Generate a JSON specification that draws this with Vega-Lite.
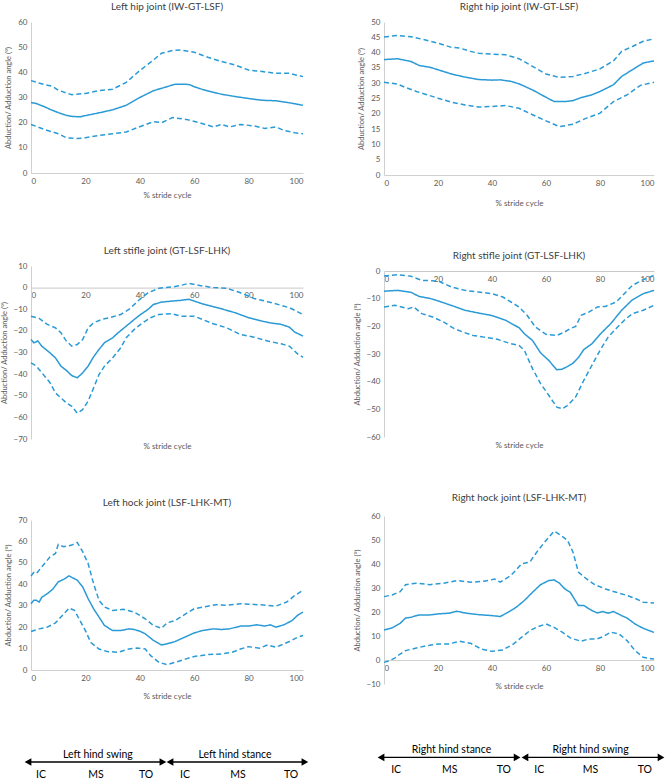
{
  "$schema": "https://vega.github.io/schema/vega-lite/v6.json",
  "padding": {"left": 0, "top": 2, "right": 4, "bottom": 0},
  "background": "white",
  "config": {
    "font": "Lato",
    "view": {"stroke": null},
    "axis": {"grid": false, "ticks": false, "domainColor": "#d0d0d0", "labelFontSize": 8, "labelColor": "#595959", "titleFontSize": 7.5, "titleColor": "#595959", "titleFontWeight": "normal", "labelFont": "Lato", "titleFont": "Lato", "labelPadding": 4, "labelOverlap": false, "labelBound": false},
    "axisY": {"titlePadding": 5, "labelFlush": false},
    "axisX": {"titlePadding": 6, "titleFontSize": 8},
    "title": {"fontSize": 10, "fontWeight": "normal", "color": "#404040", "font": "Lato", "offset": 6},
    "line": {"color": "#2a9ad6", "strokeWidth": 1.5}
  },
  "datasets": {
    "lhip": [
      {"s":"m","x":0,"y":28},{"s":"m","x":2,"y":27.6},{"s":"m","x":5,"y":26.3},{"s":"m","x":7,"y":25.3},{"s":"m","x":10,"y":24},{"s":"m","x":13,"y":22.9},{"s":"m","x":15,"y":22.5},{"s":"m","x":18,"y":22.3},{"s":"m","x":20,"y":22.8},{"s":"m","x":25,"y":23.9},{"s":"m","x":30,"y":25.1},{"s":"m","x":35,"y":26.9},{"s":"m","x":40,"y":30},{"s":"m","x":45,"y":32.7},{"s":"m","x":50,"y":34.3},{"s":"m","x":53,"y":35.3},{"s":"m","x":58,"y":35.2},{"s":"m","x":60,"y":34.3},{"s":"m","x":63,"y":33.2},{"s":"m","x":67,"y":32.1},{"s":"m","x":70,"y":31.3},{"s":"m","x":75,"y":30.4},{"s":"m","x":80,"y":29.6},{"s":"m","x":85,"y":28.9},{"s":"m","x":90,"y":28.7},{"s":"m","x":95,"y":27.9},{"s":"m","x":100,"y":26.9},
      {"s":"u","x":0,"y":36.7},{"s":"u","x":5,"y":35.1},{"s":"u","x":8,"y":34.4},{"s":"u","x":10,"y":32.9},{"s":"u","x":15,"y":31.1},{"s":"u","x":20,"y":31.6},{"s":"u","x":25,"y":32.7},{"s":"u","x":30,"y":33.3},{"s":"u","x":35,"y":36},{"s":"u","x":40,"y":40.7},{"s":"u","x":45,"y":44.9},{"s":"u","x":48,"y":47.6},{"s":"u","x":52,"y":48.7},{"s":"u","x":55,"y":48.9},{"s":"u","x":60,"y":48},{"s":"u","x":65,"y":46},{"s":"u","x":70,"y":44.3},{"s":"u","x":75,"y":42.9},{"s":"u","x":80,"y":40.9},{"s":"u","x":85,"y":40.3},{"s":"u","x":90,"y":39.6},{"s":"u","x":95,"y":39.6},{"s":"u","x":100,"y":38.3},
      {"s":"l","x":0,"y":19.3},{"s":"l","x":5,"y":17.3},{"s":"l","x":10,"y":15.6},{"s":"l","x":13,"y":14},{"s":"l","x":17,"y":13.7},{"s":"l","x":20,"y":14},{"s":"l","x":25,"y":14.9},{"s":"l","x":30,"y":15.6},{"s":"l","x":35,"y":16.3},{"s":"l","x":40,"y":18.4},{"s":"l","x":45,"y":20.4},{"s":"l","x":48,"y":20},{"s":"l","x":52,"y":22},{"s":"l","x":57,"y":21.3},{"s":"l","x":62,"y":20},{"s":"l","x":67,"y":18.3},{"s":"l","x":70,"y":19.3},{"s":"l","x":73,"y":18.3},{"s":"l","x":77,"y":19.3},{"s":"l","x":82,"y":18.7},{"s":"l","x":86,"y":17.7},{"s":"l","x":90,"y":18.3},{"s":"l","x":93,"y":16.9},{"s":"l","x":97,"y":16},{"s":"l","x":100,"y":15.6}
    ],
    "rhip": [
      {"s":"m","x":0,"y":37.7},{"s":"m","x":5,"y":38},{"s":"m","x":10,"y":37.1},{"s":"m","x":13,"y":35.8},{"s":"m","x":17,"y":35.2},{"s":"m","x":20,"y":34.4},{"s":"m","x":25,"y":33},{"s":"m","x":30,"y":32},{"s":"m","x":35,"y":31.2},{"s":"m","x":40,"y":31},{"s":"m","x":43,"y":31.1},{"s":"m","x":47,"y":30.6},{"s":"m","x":50,"y":29.8},{"s":"m","x":55,"y":27.8},{"s":"m","x":60,"y":25.4},{"s":"m","x":63,"y":24},{"s":"m","x":67,"y":24},{"s":"m","x":70,"y":24.3},{"s":"m","x":73,"y":25.3},{"s":"m","x":77,"y":26.2},{"s":"m","x":80,"y":27.3},{"s":"m","x":85,"y":29.5},{"s":"m","x":88,"y":32.2},{"s":"m","x":92,"y":34.4},{"s":"m","x":96,"y":36.6},{"s":"m","x":100,"y":37.3},
      {"s":"u","x":0,"y":45.1},{"s":"u","x":5,"y":45.6},{"s":"u","x":10,"y":45.2},{"s":"u","x":15,"y":44.2},{"s":"u","x":20,"y":43.1},{"s":"u","x":25,"y":41.7},{"s":"u","x":28,"y":41.5},{"s":"u","x":32,"y":40.4},{"s":"u","x":35,"y":39.8},{"s":"u","x":40,"y":39.5},{"s":"u","x":45,"y":39.3},{"s":"u","x":50,"y":38},{"s":"u","x":55,"y":35.5},{"s":"u","x":60,"y":33},{"s":"u","x":65,"y":31.9},{"s":"u","x":70,"y":32.2},{"s":"u","x":75,"y":33.3},{"s":"u","x":80,"y":34.7},{"s":"u","x":85,"y":37.3},{"s":"u","x":88,"y":40.4},{"s":"u","x":92,"y":42},{"s":"u","x":96,"y":43.7},{"s":"u","x":100,"y":44.5},
      {"s":"l","x":0,"y":30.3},{"s":"l","x":5,"y":29.7},{"s":"l","x":8,"y":28.6},{"s":"l","x":12,"y":27.3},{"s":"l","x":15,"y":26.5},{"s":"l","x":20,"y":25.1},{"s":"l","x":25,"y":23.8},{"s":"l","x":30,"y":22.9},{"s":"l","x":35,"y":22.2},{"s":"l","x":40,"y":22.4},{"s":"l","x":45,"y":22.7},{"s":"l","x":50,"y":21.8},{"s":"l","x":55,"y":19.7},{"s":"l","x":60,"y":17.7},{"s":"l","x":65,"y":15.8},{"s":"l","x":70,"y":16.6},{"s":"l","x":75,"y":18.6},{"s":"l","x":80,"y":20.2},{"s":"l","x":85,"y":24},{"s":"l","x":90,"y":26.2},{"s":"l","x":95,"y":29.3},{"s":"l","x":100,"y":30.3}
    ],
    "lstif": [
      {"s":"m","x":0,"y":-24},{"s":"m","x":1,"y":-25.5},{"s":"m","x":2.5,"y":-24.7},{"s":"m","x":4,"y":-27.1},{"s":"m","x":7,"y":-30.2},{"s":"m","x":9,"y":-32.5},{"s":"m","x":11,"y":-36.3},{"s":"m","x":13,"y":-38.3},{"s":"m","x":15,"y":-40.7},{"s":"m","x":17,"y":-41.7},{"s":"m","x":19,"y":-39.4},{"s":"m","x":21,"y":-36.3},{"s":"m","x":23,"y":-32},{"s":"m","x":25,"y":-28.6},{"s":"m","x":27,"y":-25.5},{"s":"m","x":30,"y":-23.2},{"s":"m","x":32,"y":-20.9},{"s":"m","x":35,"y":-17.8},{"s":"m","x":38,"y":-14.7},{"s":"m","x":40,"y":-12.7},{"s":"m","x":43,"y":-10.1},{"s":"m","x":45,"y":-7.8},{"s":"m","x":48,"y":-6.7},{"s":"m","x":52,"y":-6.2},{"s":"m","x":55,"y":-5.9},{"s":"m","x":58,"y":-5.4},{"s":"m","x":60,"y":-6.2},{"s":"m","x":63,"y":-7.5},{"s":"m","x":67,"y":-8.8},{"s":"m","x":70,"y":-9.8},{"s":"m","x":75,"y":-11.6},{"s":"m","x":80,"y":-13.9},{"s":"m","x":85,"y":-15.5},{"s":"m","x":88,"y":-16.3},{"s":"m","x":92,"y":-17},{"s":"m","x":95,"y":-18.3},{"s":"m","x":97,"y":-20.6},{"s":"m","x":100,"y":-22.4},
      {"s":"u","x":0,"y":-13.2},{"s":"u","x":3,"y":-14.2},{"s":"u","x":6,"y":-17},{"s":"u","x":9,"y":-18.6},{"s":"u","x":11,"y":-20.9},{"s":"u","x":13,"y":-24.7},{"s":"u","x":15,"y":-27.1},{"s":"u","x":17,"y":-26.3},{"s":"u","x":19,"y":-24},{"s":"u","x":21,"y":-18.6},{"s":"u","x":23,"y":-16.3},{"s":"u","x":26,"y":-14.7},{"s":"u","x":29,"y":-13.9},{"s":"u","x":33,"y":-12.4},{"s":"u","x":36,"y":-10.1},{"s":"u","x":40,"y":-5.4},{"s":"u","x":43,"y":-2.4},{"s":"u","x":47,"y":-0.3},{"s":"u","x":52,"y":0.3},{"s":"u","x":55,"y":1},{"s":"u","x":58,"y":2},{"s":"u","x":62,"y":1},{"s":"u","x":67,"y":0},{"s":"u","x":72,"y":-0.3},{"s":"u","x":77,"y":-2.4},{"s":"u","x":82,"y":-5},{"s":"u","x":87,"y":-6.5},{"s":"u","x":92,"y":-8.2},{"s":"u","x":95,"y":-9.3},{"s":"u","x":97,"y":-10.5},{"s":"u","x":100,"y":-12.4},
      {"s":"l","x":0,"y":-34.8},{"s":"l","x":2,"y":-36.3},{"s":"l","x":4,"y":-39.4},{"s":"l","x":7,"y":-44},{"s":"l","x":9,"y":-48.7},{"s":"l","x":11,"y":-51},{"s":"l","x":13,"y":-53.3},{"s":"l","x":15,"y":-54.9},{"s":"l","x":17,"y":-58},{"s":"l","x":19,"y":-56.4},{"s":"l","x":21,"y":-52.5},{"s":"l","x":23,"y":-46.4},{"s":"l","x":25,"y":-40.2},{"s":"l","x":27,"y":-36.3},{"s":"l","x":30,"y":-32.5},{"s":"l","x":33,"y":-27.8},{"s":"l","x":35,"y":-23.2},{"s":"l","x":38,"y":-19.3},{"s":"l","x":41,"y":-16.3},{"s":"l","x":44,"y":-13.9},{"s":"l","x":47,"y":-12.4},{"s":"l","x":52,"y":-12.1},{"s":"l","x":55,"y":-13.2},{"s":"l","x":60,"y":-13.2},{"s":"l","x":63,"y":-14.7},{"s":"l","x":67,"y":-16.7},{"s":"l","x":72,"y":-18.6},{"s":"l","x":77,"y":-21.7},{"s":"l","x":82,"y":-22.9},{"s":"l","x":87,"y":-24.7},{"s":"l","x":92,"y":-26},{"s":"l","x":95,"y":-27.1},{"s":"l","x":98,"y":-30.6},{"s":"l","x":100,"y":-32.2}
    ],
    "rstif": [
      {"s":"m","x":0,"y":-7.3},{"s":"m","x":5,"y":-7},{"s":"m","x":10,"y":-7.7},{"s":"m","x":13,"y":-9.2},{"s":"m","x":17,"y":-9.9},{"s":"m","x":20,"y":-10.8},{"s":"m","x":23,"y":-11.8},{"s":"m","x":26,"y":-12.8},{"s":"m","x":30,"y":-14.2},{"s":"m","x":35,"y":-15.2},{"s":"m","x":40,"y":-16.1},{"s":"m","x":45,"y":-17.8},{"s":"m","x":50,"y":-20.5},{"s":"m","x":52,"y":-22.7},{"s":"m","x":55,"y":-25.1},{"s":"m","x":58,"y":-29.6},{"s":"m","x":61,"y":-32.3},{"s":"m","x":64,"y":-35.7},{"s":"m","x":66,"y":-35.5},{"s":"m","x":68,"y":-34.5},{"s":"m","x":70,"y":-33.3},{"s":"m","x":72,"y":-31.3},{"s":"m","x":74,"y":-28.4},{"s":"m","x":77,"y":-26.3},{"s":"m","x":80,"y":-22.9},{"s":"m","x":84,"y":-19},{"s":"m","x":88,"y":-14.2},{"s":"m","x":92,"y":-10.4},{"s":"m","x":96,"y":-8.2},{"s":"m","x":100,"y":-7},
      {"s":"u","x":0,"y":-1.8},{"s":"u","x":5,"y":-1.3},{"s":"u","x":10,"y":-1.9},{"s":"u","x":14,"y":-3.4},{"s":"u","x":20,"y":-3.6},{"s":"u","x":25,"y":-5.8},{"s":"u","x":30,"y":-7},{"s":"u","x":35,"y":-7.6},{"s":"u","x":40,"y":-8.2},{"s":"u","x":44,"y":-9.4},{"s":"u","x":47,"y":-11.2},{"s":"u","x":50,"y":-13},{"s":"u","x":53,"y":-16},{"s":"u","x":56,"y":-20.2},{"s":"u","x":60,"y":-22.9},{"s":"u","x":64,"y":-23.3},{"s":"u","x":67,"y":-22},{"s":"u","x":69,"y":-20.8},{"s":"u","x":71,"y":-20},{"s":"u","x":73,"y":-16},{"s":"u","x":76,"y":-14.8},{"s":"u","x":79,"y":-13},{"s":"u","x":82,"y":-12.8},{"s":"u","x":86,"y":-11.2},{"s":"u","x":89,"y":-8.2},{"s":"u","x":92,"y":-5.2},{"s":"u","x":96,"y":-3.1},{"s":"u","x":100,"y":-1.6},
      {"s":"l","x":0,"y":-13},{"s":"l","x":4,"y":-12.4},{"s":"l","x":9,"y":-13.6},{"s":"l","x":11,"y":-13},{"s":"l","x":14,"y":-15.4},{"s":"l","x":18,"y":-16.6},{"s":"l","x":22,"y":-18.4},{"s":"l","x":26,"y":-20.8},{"s":"l","x":29,"y":-22},{"s":"l","x":33,"y":-23.3},{"s":"l","x":37,"y":-23.9},{"s":"l","x":42,"y":-24.7},{"s":"l","x":47,"y":-26.3},{"s":"l","x":50,"y":-26.9},{"s":"l","x":52,"y":-28.7},{"s":"l","x":55,"y":-35.3},{"s":"l","x":58,"y":-40.7},{"s":"l","x":61,"y":-44.9},{"s":"l","x":64,"y":-49.2},{"s":"l","x":66,"y":-49.8},{"s":"l","x":68,"y":-48.6},{"s":"l","x":71,"y":-45.5},{"s":"l","x":74,"y":-39.5},{"s":"l","x":77,"y":-34.1},{"s":"l","x":80,"y":-28.7},{"s":"l","x":83,"y":-23.9},{"s":"l","x":86,"y":-20.8},{"s":"l","x":89,"y":-17.8},{"s":"l","x":92,"y":-15.4},{"s":"l","x":96,"y":-14.2},{"s":"l","x":100,"y":-12.4}
    ],
    "lhock": [
      {"s":"m","x":0,"y":30.9},{"s":"m","x":1,"y":32.5},{"s":"m","x":2,"y":32.5},{"s":"m","x":3,"y":31.7},{"s":"m","x":4,"y":34},{"s":"m","x":6,"y":35.6},{"s":"m","x":8,"y":37.7},{"s":"m","x":10,"y":41.1},{"s":"m","x":12,"y":42.3},{"s":"m","x":14,"y":43.9},{"s":"m","x":17,"y":41.9},{"s":"m","x":19,"y":38.8},{"s":"m","x":21,"y":33.3},{"s":"m","x":23,"y":28.6},{"s":"m","x":25,"y":24.7},{"s":"m","x":27,"y":20.8},{"s":"m","x":30,"y":18.4},{"s":"m","x":33,"y":18.4},{"s":"m","x":36,"y":19.2},{"s":"m","x":38,"y":18.9},{"s":"m","x":40,"y":18.1},{"s":"m","x":42,"y":16.9},{"s":"m","x":45,"y":13.8},{"s":"m","x":48,"y":11.7},{"s":"m","x":50,"y":12.2},{"s":"m","x":53,"y":13.3},{"s":"m","x":57,"y":15.6},{"s":"m","x":60,"y":17.3},{"s":"m","x":63,"y":18.4},{"s":"m","x":67,"y":19.2},{"s":"m","x":70,"y":18.9},{"s":"m","x":73,"y":19.2},{"s":"m","x":77,"y":20.5},{"s":"m","x":80,"y":20.5},{"s":"m","x":83,"y":21.1},{"s":"m","x":86,"y":20.5},{"s":"m","x":88,"y":21.1},{"s":"m","x":90,"y":20},{"s":"m","x":93,"y":21.1},{"s":"m","x":96,"y":23.1},{"s":"m","x":98,"y":25.5},{"s":"m","x":100,"y":27},
      {"s":"u","x":0,"y":43.9},{"s":"u","x":1,"y":45.5},{"s":"u","x":2,"y":45},{"s":"u","x":3,"y":46.6},{"s":"u","x":5,"y":49.7},{"s":"u","x":7,"y":52.8},{"s":"u","x":9,"y":54.4},{"s":"u","x":10,"y":58.6},{"s":"u","x":12,"y":57.5},{"s":"u","x":15,"y":58.3},{"s":"u","x":17,"y":59.5},{"s":"u","x":19,"y":55.2},{"s":"u","x":21,"y":49.7},{"s":"u","x":23,"y":40.3},{"s":"u","x":25,"y":32.5},{"s":"u","x":27,"y":29.4},{"s":"u","x":30,"y":27.8},{"s":"u","x":34,"y":28.3},{"s":"u","x":38,"y":27},{"s":"u","x":42,"y":23.9},{"s":"u","x":45,"y":20.8},{"s":"u","x":48,"y":19.5},{"s":"u","x":50,"y":22},{"s":"u","x":53,"y":23.1},{"s":"u","x":57,"y":26.3},{"s":"u","x":60,"y":28.6},{"s":"u","x":65,"y":29.8},{"s":"u","x":68,"y":30.5},{"s":"u","x":72,"y":30.2},{"s":"u","x":77,"y":30.9},{"s":"u","x":82,"y":30.6},{"s":"u","x":87,"y":30.2},{"s":"u","x":90,"y":29.8},{"s":"u","x":94,"y":31.7},{"s":"u","x":97,"y":34.8},{"s":"u","x":100,"y":37.2},
      {"s":"l","x":0,"y":18},{"s":"l","x":3,"y":19.2},{"s":"l","x":6,"y":20},{"s":"l","x":9,"y":22},{"s":"l","x":11,"y":24.7},{"s":"l","x":14,"y":28.9},{"s":"l","x":16,"y":27.8},{"s":"l","x":18,"y":23.1},{"s":"l","x":20,"y":18.4},{"s":"l","x":22,"y":12.8},{"s":"l","x":25,"y":9.8},{"s":"l","x":28,"y":8.6},{"s":"l","x":32,"y":8.3},{"s":"l","x":36,"y":9.8},{"s":"l","x":39,"y":10.3},{"s":"l","x":42,"y":9.8},{"s":"l","x":44,"y":6.7},{"s":"l","x":47,"y":3.6},{"s":"l","x":50,"y":2.5},{"s":"l","x":53,"y":3.6},{"s":"l","x":57,"y":5.2},{"s":"l","x":60,"y":6.3},{"s":"l","x":65,"y":7.2},{"s":"l","x":70,"y":7.5},{"s":"l","x":74,"y":8.3},{"s":"l","x":77,"y":9.8},{"s":"l","x":80,"y":10.9},{"s":"l","x":84,"y":10.2},{"s":"l","x":87,"y":11.7},{"s":"l","x":90,"y":10.6},{"s":"l","x":95,"y":13.3},{"s":"l","x":98,"y":15.3},{"s":"l","x":100,"y":16.1}
    ],
    "rhock": [
      {"s":"m","x":0,"y":12.5},{"s":"m","x":3,"y":13.4},{"s":"m","x":6,"y":15.3},{"s":"m","x":8,"y":17.5},{"s":"m","x":10,"y":17.8},{"s":"m","x":13,"y":18.8},{"s":"m","x":17,"y":18.8},{"s":"m","x":20,"y":19.2},{"s":"m","x":24,"y":19.5},{"s":"m","x":27,"y":20.3},{"s":"m","x":30,"y":19.6},{"s":"m","x":35,"y":18.9},{"s":"m","x":40,"y":18.5},{"s":"m","x":43,"y":18.1},{"s":"m","x":46,"y":19.9},{"s":"m","x":49,"y":22},{"s":"m","x":52,"y":24.8},{"s":"m","x":55,"y":28.2},{"s":"m","x":58,"y":31.4},{"s":"m","x":61,"y":33.1},{"s":"m","x":63,"y":33.4},{"s":"m","x":65,"y":32},{"s":"m","x":67,"y":29.6},{"s":"m","x":69,"y":28.2},{"s":"m","x":72,"y":22.7},{"s":"m","x":74,"y":22.7},{"s":"m","x":77,"y":20.6},{"s":"m","x":79,"y":19.6},{"s":"m","x":81,"y":20.2},{"s":"m","x":83,"y":19.5},{"s":"m","x":85,"y":20.2},{"s":"m","x":88,"y":18.5},{"s":"m","x":90,"y":17.5},{"s":"m","x":93,"y":15},{"s":"m","x":96,"y":13.2},{"s":"m","x":100,"y":11.5},
      {"s":"u","x":0,"y":26.4},{"s":"u","x":3,"y":27.1},{"s":"u","x":6,"y":28.5},{"s":"u","x":8,"y":31.4},{"s":"u","x":12,"y":32},{"s":"u","x":17,"y":31.4},{"s":"u","x":22,"y":32},{"s":"u","x":27,"y":33.1},{"s":"u","x":32,"y":32.4},{"s":"u","x":37,"y":32.8},{"s":"u","x":41,"y":33.7},{"s":"u","x":43,"y":32.4},{"s":"u","x":47,"y":35.2},{"s":"u","x":51,"y":40.1},{"s":"u","x":54,"y":40.8},{"s":"u","x":57,"y":45.6},{"s":"u","x":60,"y":49.8},{"s":"u","x":63,"y":53.7},{"s":"u","x":66,"y":51.5},{"s":"u","x":68,"y":49.8},{"s":"u","x":70,"y":44.9},{"s":"u","x":72,"y":36.6},{"s":"u","x":75,"y":33.8},{"s":"u","x":78,"y":31.4},{"s":"u","x":82,"y":29.6},{"s":"u","x":86,"y":28.2},{"s":"u","x":90,"y":26.9},{"s":"u","x":93,"y":25.7},{"s":"u","x":96,"y":24.1},{"s":"u","x":100,"y":23.7},
      {"s":"l","x":0,"y":-1},{"s":"l","x":2,"y":-0.3},{"s":"l","x":4,"y":0.8},{"s":"l","x":6,"y":2.5},{"s":"l","x":8,"y":3.9},{"s":"l","x":12,"y":5},{"s":"l","x":16,"y":6},{"s":"l","x":20,"y":6.7},{"s":"l","x":24,"y":6.7},{"s":"l","x":28,"y":7.8},{"s":"l","x":32,"y":7},{"s":"l","x":36,"y":4.6},{"s":"l","x":40,"y":3.6},{"s":"l","x":44,"y":4.2},{"s":"l","x":48,"y":6.7},{"s":"l","x":51,"y":9.5},{"s":"l","x":54,"y":12.2},{"s":"l","x":57,"y":13.9},{"s":"l","x":60,"y":15},{"s":"l","x":63,"y":13.6},{"s":"l","x":66,"y":11.6},{"s":"l","x":69,"y":9.2},{"s":"l","x":73,"y":7.8},{"s":"l","x":76,"y":8.8},{"s":"l","x":79,"y":8.8},{"s":"l","x":81,"y":9.7},{"s":"l","x":84,"y":11.6},{"s":"l","x":87,"y":10.9},{"s":"l","x":90,"y":8.1},{"s":"l","x":93,"y":3.9},{"s":"l","x":96,"y":1.1},{"s":"l","x":100,"y":0.4}
    ],
    "arrL": [
      {"x1":-1.1,"x2":48.5,"xm":24.6,"t":"Left hind swing"},
      {"x1":51.1,"x2":100.7,"xm":75,"t":"Left hind stance"}
    ],
    "phL": [
      {"x":3.7,"t":"IC"},{"x":23.9,"t":"MS"},{"x":42.3,"t":"TO"},
      {"x":56.6,"t":"IC"},{"x":76.1,"t":"MS"},{"x":95.6,"t":"TO"}
    ],
    "arrR": [
      {"x1":-1.1,"x2":49.3,"xm":25,"t":"Right hind stance"},
      {"x1":52.2,"x2":102.6,"xm":76.5,"t":"Right hind swing"}
    ],
    "phR": [
      {"x":4.5,"t":"IC"},{"x":24.3,"t":"MS"},{"x":44.4,"t":"TO"},
      {"x":57.5,"t":"IC"},{"x":76.5,"t":"MS"},{"x":96.6,"t":"TO"}
    ]
  },
  "hconcat": [
    {
      "spacing": 47,
      "vconcat": [
        {
          "title": "Left hip joint (IW-GT-LSF)",
          "width": 272, "height": 151,
          "data": {"name": "lhip"},
          "mark": {"type": "line"},
          "encoding": {
            "x": {"field": "x", "type": "quantitative", "scale": {"domain": [0, 100]}, "axis": {"values": [0,20,40,60,80,100], "title": "% stride cycle"}},
            "y": {"field": "y", "type": "quantitative", "scale": {"domain": [0, 60], "nice": false}, "axis": {"values": [0,10,20,30,40,50,60], "title": "Abduction/ Adduction angle (°)", "tickCount": 7}},
            "detail": {"field": "s"},
            "strokeDash": {"field": "s", "type": "nominal", "scale": {"domain": ["m","u","l"], "range": [[1,0],[5,3],[5,3]]}, "legend": null}
          }
        },
        {
          "title": "Left stifle joint (GT-LSF-LHK)",
          "width": 272, "height": 173,
          "data": {"name": "lstif"},
          "mark": {"type": "line"},
          "encoding": {
            "x": {"field": "x", "type": "quantitative", "scale": {"domain": [0, 100]}, "axis": {"values": [0,20,40,60,80,100], "title": "% stride cycle", "offset": -151.4, "titleY": 155, "domainColor": "#c8c8c8"}},
            "y": {"field": "y", "type": "quantitative", "scale": {"domain": [-70, 10], "nice": false}, "axis": {"values": [-70,-60,-50,-40,-30,-20,-10,0,10], "title": "Abduction/ Adduction angle (°)"}},
            "detail": {"field": "s"},
            "strokeDash": {"field": "s", "type": "nominal", "scale": {"domain": ["m","u","l"], "range": [[1,0],[5,3],[5,3]]}, "legend": null}
          }
        },
        {
          "title": {"text": "Left hock joint (LSF-LHK-MT)", "offset": 8},
          "width": 272, "height": 150,
          "data": {"name": "lhock"},
          "mark": {"type": "line"},
          "encoding": {
            "x": {"field": "x", "type": "quantitative", "scale": {"domain": [0, 100]}, "axis": {"values": [0,20,40,60,80,100], "title": "% stride cycle", "titlePadding": 10}},
            "y": {"field": "y", "type": "quantitative", "scale": {"domain": [0, 70], "nice": false}, "axis": {"values": [0,10,20,30,40,50,60,70], "title": "Abduction/ Adduction angle (°)", "tickCount": 8}},
            "detail": {"field": "s"},
            "strokeDash": {"field": "s", "type": "nominal", "scale": {"domain": ["m","u","l"], "range": [[1,0],[5,3],[5,3]]}, "legend": null}
          }
        },
        {
          "width": 272, "height": 30,
          "layer": [
            {
              "data": {"name": "arrL"},
              "mark": {"type": "rule", "color": "black", "strokeWidth": 1.3},
              "encoding": {
                "x": {"field": "x1", "type": "quantitative", "scale": {"domain": [0, 100]}, "axis": null},
                "x2": {"field": "x2"},
                "y": {"datum": 15, "type": "quantitative", "scale": {"domain": [30, 0]}, "axis": null}
              }
            },
            {
              "data": {"name": "arrL"},
              "mark": {"type": "point", "shape": "triangle-left", "filled": true, "color": "black", "opacity": 1, "size": 60},
              "encoding": {
                "x": {"field": "x1", "type": "quantitative"},
                "y": {"datum": 15, "type": "quantitative"}
              }
            },
            {
              "data": {"name": "arrL"},
              "mark": {"type": "point", "shape": "triangle-right", "filled": true, "color": "black", "opacity": 1, "size": 60},
              "encoding": {
                "x": {"field": "x2", "type": "quantitative"},
                "y": {"datum": 15, "type": "quantitative"}
              }
            },
            {
              "data": {"name": "arrL"},
              "mark": {"type": "text", "fontSize": 10.5, "color": "black", "baseline": "bottom"},
              "encoding": {
                "x": {"field": "xm", "type": "quantitative"},
                "y": {"datum": 13, "type": "quantitative"},
                "text": {"field": "t"}
              }
            },
            {
              "data": {"name": "phL"},
              "mark": {"type": "text", "fontSize": 10.5, "color": "black", "baseline": "middle"},
              "encoding": {
                "x": {"field": "x", "type": "quantitative"},
                "y": {"datum": 28, "type": "quantitative"},
                "text": {"field": "t"}
              }
            }
          ]
        }
      ]
    },
    {
      "spacing": 44,
      "vconcat": [
        {
          "title": "Right hip joint (IW-GT-LSF)",
          "width": 270, "height": 153,
          "data": {"name": "rhip"},
          "mark": {"type": "line"},
          "encoding": {
            "x": {"field": "x", "type": "quantitative", "scale": {"domain": [0, 100]}, "axis": {"values": [0,20,40,60,80,100], "title": "% stride cycle", "titlePadding": 12}},
            "y": {"field": "y", "type": "quantitative", "scale": {"domain": [0, 50], "nice": false}, "axis": {"values": [0,5,10,15,20,25,30,35,40,45,50], "title": "Abduction/ Adduction angle (°)"}},
            "detail": {"field": "s"},
            "strokeDash": {"field": "s", "type": "nominal", "scale": {"domain": ["m","u","l"], "range": [[1,0],[5,3],[5,3]]}, "legend": null}
          }
        },
        {
          "title": "Right stifle joint (GT-LSF-LHK)",
          "width": 270, "height": 166,
          "data": {"name": "rstif"},
          "mark": {"type": "line"},
          "encoding": {
            "x": {"field": "x", "type": "quantitative", "scale": {"domain": [0, 100]}, "axis": {"values": [0,20,40,60,80,100], "title": "% stride cycle", "offset": -166, "titleY": 170, "domainColor": "#c8c8c8"}},
            "y": {"field": "y", "type": "quantitative", "scale": {"domain": [-60, 0], "nice": false}, "axis": {"values": [-60,-50,-40,-30,-20,-10,0], "title": "Abduction/ Adduction angle (°)"}},
            "detail": {"field": "s"},
            "strokeDash": {"field": "s", "type": "nominal", "scale": {"domain": ["m","u","l"], "range": [[1,0],[5,3],[5,3]]}, "legend": null}
          }
        },
        {
          "title": {"text": "Right hock joint (LSF-LHK-MT)", "offset": 9},
          "width": 270, "height": 168,
          "data": {"name": "rhock"},
          "mark": {"type": "line"},
          "encoding": {
            "x": {"field": "x", "type": "quantitative", "scale": {"domain": [0, 100]}, "axis": {"values": [0,20,40,60,80,100], "title": "% stride cycle", "offset": -24, "titleY": 22}},
            "y": {"field": "y", "type": "quantitative", "scale": {"domain": [-10, 60], "nice": false}, "axis": {"values": [-10,0,10,20,30,40,50,60], "title": "Abduction/ Adduction angle (°)"}},
            "detail": {"field": "s"},
            "strokeDash": {"field": "s", "type": "nominal", "scale": {"domain": ["m","u","l"], "range": [[1,0],[5,3],[5,3]]}, "legend": null}
          }
        },
        {
          "width": 270, "height": 39,
          "layer": [
            {
              "data": {"name": "arrR"},
              "mark": {"type": "rule", "color": "black", "strokeWidth": 1.3},
              "encoding": {
                "x": {"field": "x1", "type": "quantitative", "scale": {"domain": [0, 100]}, "axis": null},
                "x2": {"field": "x2"},
                "y": {"datum": 24, "type": "quantitative", "scale": {"domain": [39, 0]}, "axis": null}
              }
            },
            {
              "data": {"name": "arrR"},
              "mark": {"type": "point", "shape": "triangle-left", "filled": true, "color": "black", "opacity": 1, "size": 60},
              "encoding": {
                "x": {"field": "x1", "type": "quantitative"},
                "y": {"datum": 24, "type": "quantitative"}
              }
            },
            {
              "data": {"name": "arrR"},
              "mark": {"type": "point", "shape": "triangle-right", "filled": true, "color": "black", "opacity": 1, "size": 60},
              "encoding": {
                "x": {"field": "x2", "type": "quantitative"},
                "y": {"datum": 24, "type": "quantitative"}
              }
            },
            {
              "data": {"name": "arrR"},
              "mark": {"type": "text", "fontSize": 10.5, "color": "black", "baseline": "bottom"},
              "encoding": {
                "x": {"field": "xm", "type": "quantitative"},
                "y": {"datum": 22, "type": "quantitative"},
                "text": {"field": "t"}
              }
            },
            {
              "data": {"name": "phR"},
              "mark": {"type": "text", "fontSize": 10.5, "color": "black", "baseline": "middle"},
              "encoding": {
                "x": {"field": "x", "type": "quantitative"},
                "y": {"datum": 37, "type": "quantitative"},
                "text": {"field": "t"}
              }
            }
          ]
        }
      ]
    }
  ],
  "spacing": 44
}
